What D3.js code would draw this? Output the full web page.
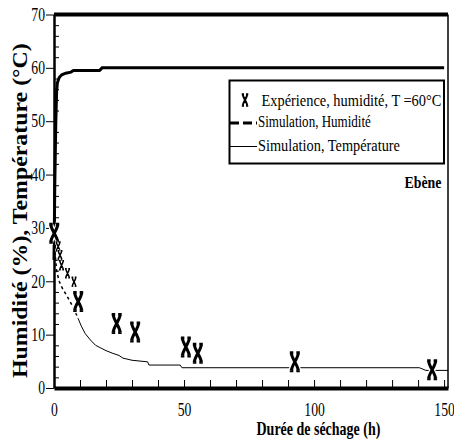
<!DOCTYPE html>
<html>
<head>
<meta charset="utf-8">
<script src="https://cdn.jsdelivr.net/npm/d3@7"></script>
<style>
  body { margin: 0; background: #fff; }
  svg text { font-family: "Liberation Serif", "Times New Roman", "DejaVu Serif", serif !important; fill: #000; }
</style>
</head>
<body>
<div id="chart"></div>
<script>
var W = 454, H = 443;
var margin = {top: 14.5, right: 6, bottom: 55, left: 54};
var serif = "'Liberation Serif', 'Times New Roman', 'DejaVu Serif', serif";

// simulated temperature (°C)
var tempTime  = [0, 0.3, 0.7, 1.0, 1.3, 2.0, 3.0, 4.5, 6.5, 7.5, 17.5, 18.5, 150];
var tempValue = [24, 38, 50, 55.5, 57.2, 58.2, 58.7, 59.0, 59.2, 59.5, 59.5, 60, 60];

// simulated humidity (%) - first part drawn dashed
var humDashTime  = [0, 0.4, 1.0, 2.0, 3.2, 5.5, 7.5, 9.3];
var humDashValue = [29, 25.5, 22, 20, 18.7, 16.8, 15, 13];
var humTime  = [9.3, 10.5, 12, 14, 16, 18, 20, 22.6, 25, 26.5, 30, 36, 36.5, 48.5, 49.2, 140.5, 143, 151.5];
var humValue = [13, 11.6, 10.2, 9.0, 8.0, 7.5, 7.0, 6.5, 6.1, 5.6, 5.2, 4.9, 4.3, 4.3, 3.8, 3.8, 3.3, 3.3];

// experimental humidity, T = 60°C
var expTime = [0.1, 1.6, 2.3, 2.9, 5.2, 7.7, 9.3, 24.1, 31.2, 50.7, 55.3, 92.6, 145.4];
var expHum  = [29, 26.5, 24.9, 23, 21.5, 19.9, 16.2, 12.1, 10.5, 7.7, 6.5, 4.9, 3.4];

var xTicks = [0, 50, 100, 150];
var legendLabels = ["Expérience, humidité, T =60°C", "Simulation, Humidité", "Simulation, Température"];

var svg = d3.select("#chart").append("svg")
    .attr("width", W)
    .attr("height", H)
    .attr("font-family", serif);

var x = d3.scaleLinear().domain([0, 151.5]).range([margin.left, W - margin.right]);
var y = d3.scaleLinear().domain([0, 70]).range([H - margin.bottom, margin.top]);

var sx = 0.76; // the figure's text is horizontally squeezed

// squeeze a text (anchored at its own x,y = 0) to a given width
function squeeze(sel, px, py, len, rot) {
    var natural = sel.node().getComputedTextLength();
    sel.attr("transform", "translate(" + px + "," + py + ")" + (rot ? " rotate(" + rot + ")" : "") +
        " scale(" + (len / natural) + ",1)");
}

// x axis: labels + thick base line
var xAxis = svg.append("g")
    .attr("transform", "translate(0," + y(0) + ")")
    .call(d3.axisBottom(x).tickValues(xTicks).tickSize(0).tickSizeOuter(0).tickPadding(15));
xAxis.attr("font-family", serif);
xAxis.select(".domain").attr("stroke-width", 4);
xAxis.selectAll("text")
    .attr("font-size", 18)
    .attr("transform", "scale(" + sx + ",1)");

// inner minor x ticks every 10 h
var xMinor = svg.append("g")
    .attr("transform", "translate(0," + y(0) + ")")
    .call(d3.axisBottom(x).tickValues(d3.range(10, 151, 10)).tickSize(-8).tickFormat(""));
xMinor.select(".domain").remove();

// y axis
var yAxis = svg.append("g")
    .attr("transform", "translate(" + x(0) + ",0)")
    .call(d3.axisLeft(y).tickValues(d3.range(0, 71, 10)).tickSize(8).tickSizeOuter(0).tickPadding(1));
yAxis.attr("font-family", serif);
yAxis.select(".domain").attr("stroke-width", 2.5);
yAxis.selectAll("text")
    .attr("font-size", 18)
    .attr("x", -9 / sx)
    .attr("transform", "scale(" + sx + ",1)");

var yMinor = svg.append("g")
    .attr("transform", "translate(" + x(0) + ",0)")
    .call(d3.axisLeft(y).tickValues(d3.range(2, 70, 2).filter(function(v) { return v % 10 != 0; }))
        .tickSize(-5).tickFormat(""));
yMinor.select(".domain").remove();

// frame: thick top line at 70, thin right border
svg.append("line")
    .attr("x1", x(0)).attr("x2", x(151.5))
    .attr("y1", y(70)).attr("y2", y(70))
    .attr("stroke", "#000").attr("stroke-width", 4);
svg.append("line")
    .attr("x1", x(151.5)).attr("x2", x(151.5))
    .attr("y1", y(70)).attr("y2", y(0))
    .attr("stroke", "#000").attr("stroke-width", 1.5);

var line = d3.line().x(function(d) { return x(d[0]); }).y(function(d) { return y(d[1]); });

// temperature
svg.append("path")
    .datum(d3.zip(tempTime, tempValue))
    .attr("d", line)
    .attr("fill", "none").attr("stroke", "#000").attr("stroke-width", 3);

// humidity
svg.append("path")
    .datum(d3.zip(humDashTime, humDashValue))
    .attr("d", line)
    .attr("fill", "none").attr("stroke", "#000").attr("stroke-width", 1.5)
    .attr("stroke-dasharray", "3,3");
svg.append("path")
    .datum(d3.zip(humTime, humValue))
    .attr("d", line)
    .attr("fill", "none").attr("stroke", "#000").attr("stroke-width", 1);

// X-like markers
var markerPath = "M-5,-9L-1.5,-9M1.5,-9L5,-9M-3.6,-9C-3,-3 3,3 3.6,9M3.6,-9C3,-3 -3,3 -3.6,9M-5,9L-1.5,9M1.5,9L5,9";

function drawMarker(g, cx, cy, s) {
    g.append("path")
        .attr("d", markerPath)
        .attr("transform", "translate(" + cx + "," + cy + ") scale(" + s + ")")
        .attr("fill", "none").attr("stroke", "#fff").attr("stroke-width", 5.5);
    g.append("path")
        .attr("d", markerPath)
        .attr("transform", "translate(" + cx + "," + cy + ") scale(" + s + ")")
        .attr("fill", "none").attr("stroke", "#000").attr("stroke-width", 3);
}

var markers = svg.append("g");
d3.zip(expTime, expHum).forEach(function(d) {
    // the crowded early points are drawn smaller in the figure
    var s = (d[0] > 1 && d[0] < 9) ? 0.5 : 1;
    drawMarker(markers, x(d[0]), y(d[1]), s);
});

// legend
var leg = svg.append("g");
leg.append("rect")
    .attr("x", 229.5).attr("y", 80.5).attr("width", 214.5).attr("height", 83)
    .attr("fill", "#fff").attr("stroke", "#000").attr("stroke-width", 2);
var legRows = [106, 127, 151];
var legLens = [180, 113, 142];
drawMarker(leg, 245, 100, 0.65);
leg.append("line")
    .attr("x1", 230).attr("x2", 257).attr("y1", 123).attr("y2", 123)
    .attr("stroke", "#000").attr("stroke-width", 3).attr("stroke-dasharray", "9,4");
leg.append("line")
    .attr("x1", 230).attr("x2", 257).attr("y1", 146.5).attr("y2", 146.5)
    .attr("stroke", "#000").attr("stroke-width", 1);
leg.selectAll("text.lbl")
    .data(legendLabels)
    .join("text")
    .attr("class", "lbl")
    .attr("font-size", 17)
    .text(function(d) { return d; })
    .each(function(d, i) {
        squeeze(d3.select(this), i == 0 ? 261.5 : 258, legRows[i], legLens[i]);
    });

var ebene = svg.append("text")
    .attr("font-size", 16).attr("font-weight", "bold")
    .text("Ebène");
squeeze(ebene, 404.5, 188, 37);

// axis titles
var xTitle = svg.append("text")
    .attr("font-size", 18).attr("font-weight", "bold")
    .text("Durée de séchage (h)");
squeeze(xTitle, 256.5, 435, 124);

var yTitle = svg.append("text")
    .attr("font-size", 21).attr("font-weight", "bold")
    .text("Humidité (%), Température (°C)");
squeeze(yTitle, 27, 378, 335, -90);
</script>
</body>
</html>
